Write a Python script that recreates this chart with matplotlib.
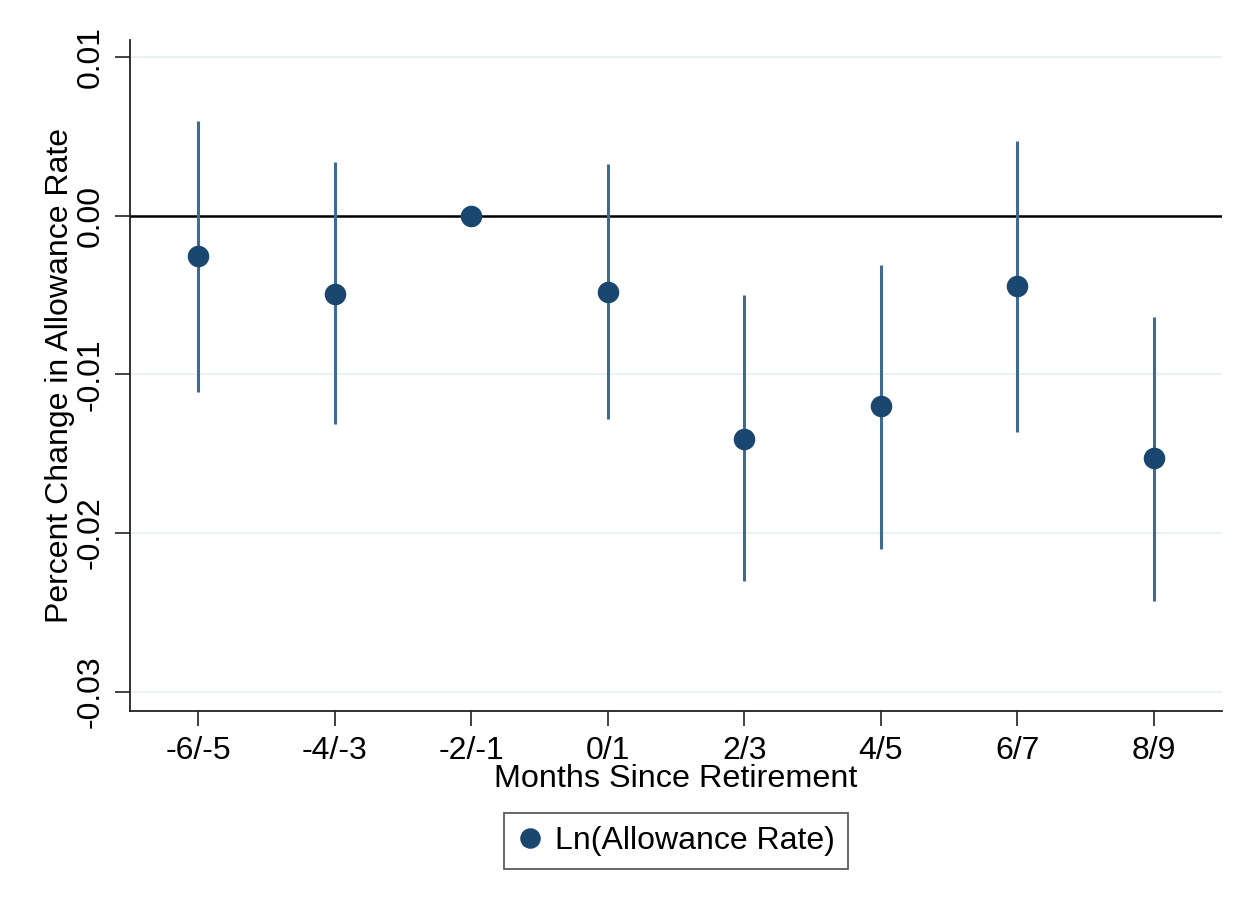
import matplotlib
matplotlib.use("Agg")
import matplotlib.pyplot as plt
import numpy as np

plt.rcParams['font.family'] = ['Liberation Sans', 'DejaVu Sans']

periods = ["-6/-5", "-4/-3", "-2/-1", "0/1", "2/3", "4/5", "6/7", "8/9"]
estimate = [-0.0025, -0.0049, 0.0, -0.0048, -0.0141, -0.0120, -0.0044, -0.0153]
ci_low = [-0.0111, -0.0131, 0.0, -0.0128, -0.0230, -0.0210, -0.0136, -0.0243]
ci_high = [0.0060, 0.0034, 0.0, 0.0033, -0.0050, -0.0031, 0.0047, -0.0064]
yticks = [0.01, 0.0, -0.01, -0.02, -0.03]

navy = "#1a476f"
ci_color = "#3f6b93"

fig = plt.figure(figsize=(12.49, 9.11), dpi=100)
ax = fig.add_axes([130/1249, 1 - 711/911, (1222-130)/1249, (711-40)/911])

x = np.arange(len(periods))
ax.vlines(x, ci_low, ci_high, color=ci_color, lw=2.2, zorder=3)
ax.plot(x, estimate, 'o', color=navy, ms=14.5, zorder=4, label="Ln(Allowance Rate)")
ax.axhline(0, color="black", lw=1.8, zorder=2)

ax.set_xlim(-0.5, len(periods) - 0.5)
ax.set_ylim(-0.03123, 0.0111)
ax.set_yticks(yticks)
ax.set_yticklabels([f"{v:.2f}" for v in yticks], rotation=90, va='center')
ax.set_xticks(x)
ax.set_xticklabels(periods)
for v in yticks:
    ax.axhline(v, color="#eaf2f3", lw=1.5, zorder=1)

for s in ("top", "right"):
    ax.spines[s].set_visible(False)
for s in ("left", "bottom"):
    ax.spines[s].set_color("#222222")
    ax.spines[s].set_linewidth(1.3)
ax.tick_params(axis='both', length=11, width=1.3, color="#333333", labelsize=23)
ax.tick_params(axis='x', pad=7)
ax.tick_params(axis='y', pad=6.5)

ax.set_ylabel("Percent Change in Allowance Rate", fontsize=23, labelpad=0.5)
ax.set_xlabel("Months Since Retirement", fontsize=23.3, labelpad=-1.5)

leg = ax.legend(loc="upper center", bbox_to_anchor=(0.5, -0.152), fontsize=23,
                frameon=True, fancybox=False, edgecolor="#333333", handletextpad=0.4,
                borderpad=0.4, handlelength=0.8, markerscale=0.95, borderaxespad=0)
leg.get_frame().set_linewidth(1.3)

fig.savefig("out.png", dpi=100, facecolor="white")
